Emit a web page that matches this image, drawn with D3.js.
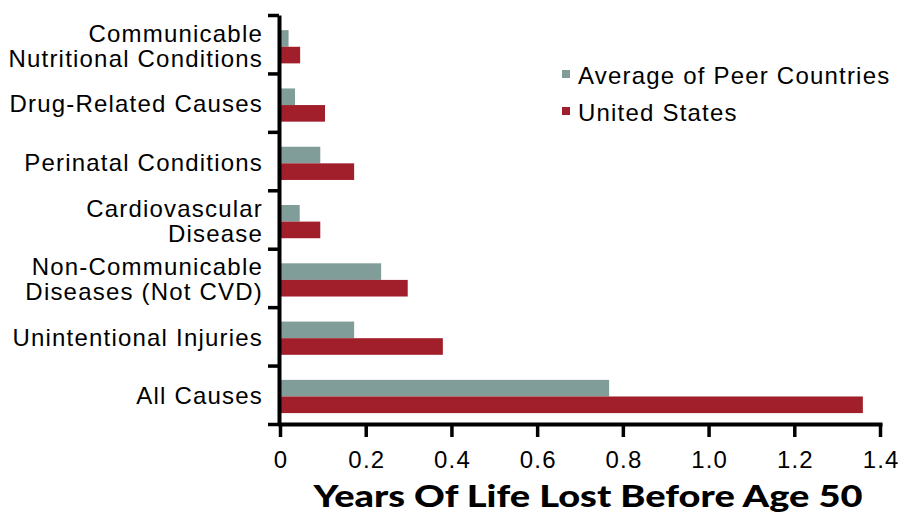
<!DOCTYPE html>
<html>
<head>
<meta charset="utf-8">
<script src="https://cdn.jsdelivr.net/npm/d3@7"></script>
<style>
  body { margin: 0; background: #fff; }
  text { font-family: "Liberation Sans", Arial, Helvetica, sans-serif; fill: #000; }
  .lbl { font-size: 24px; letter-spacing: 1.2px; }
  .title { font-family: Lato, "Liberation Sans", sans-serif; font-weight: 900; font-size: 30px; letter-spacing: 0; }
</style>
</head>
<body>
<div id="chart"></div>
<script>
// data
const categories = [
    'Communicable\nNutritional Conditions',
    'Drug-Related Causes',
    'Perinatal Conditions',
    'Cardiovascular\nDisease',
    'Non-Communicable\nDiseases (Not CVD)',
    'Unintentional Injuries',
    'All Causes'
];
const peerValues = [0.02, 0.035, 0.094, 0.046, 0.236, 0.173, 0.768];
const usValues = [0.047, 0.105, 0.173, 0.094, 0.298, 0.38, 1.36];
const seriesNames = ['Average of Peer Countries', 'United States'];
const xTicks = [0, 0.2, 0.4, 0.6, 0.8, 1.0, 1.2, 1.4];
const xTickLabels = ['0', '0.2', '0.4', '0.6', '0.8', '1.0', '1.2', '1.4'];
const axisTitle = 'Years Of Life Lost Before Age 50';

const colors = ['#819d99', '#a11f2b'];

const data = categories.map((c, i) => ({ cat: c, values: [peerValues[i], usValues[i]] }));

// chart
const width = 904;
const height = 517;
const margin = { top: 15, right: 24, bottom: 94, left: 280 };

const svg = d3.select('#chart')
    .append('svg')
    .attr('width', width)
    .attr('height', height);

const xScale = d3.scaleLinear()
    .domain([0, 1.4])
    .range([margin.left, width - margin.right]);

const yScale = d3.scaleBand()
    .domain(categories)
    .range([margin.top, height - margin.bottom])
    .padding(0);

const step = yScale.step();
const subScale = d3.scaleBand()
    .domain([0, 1])
    .range([step * 0.26, step * 0.83]);

// bars
const groups = svg.append('g')
    .attr('class', 'bars')
    .selectAll('g')
    .data(data)
    .join('g')
    .attr('transform', d => `translate(0,${yScale(d.cat)})`);

groups.selectAll('rect')
    .data(d => d.values)
    .join('rect')
    .attr('x', xScale(0))
    .attr('y', (d, i) => subScale(i))
    .attr('width', d => xScale(d) - xScale(0))
    .attr('height', subScale.bandwidth())
    .style('fill', (d, i) => colors[i]);

// category labels
const labels = svg.append('g')
    .attr('class', 'cat-labels')
    .selectAll('text')
    .data(categories)
    .join('text')
    .attr('class', 'lbl')
    .attr('text-anchor', 'end');

labels.each(function (d) {
    const lines = d.split('\n');
    const cy = yScale(d) + step / 2 + 10;
    d3.select(this)
        .selectAll('tspan')
        .data(lines)
        .join('tspan')
        .attr('x', xScale(0) - 17)
        .attr('y', (l, i) => cy + (i - (lines.length - 1) / 2) * 25)
        .text(l => l);
});

// x axis
const xAxis = d3.axisBottom(xScale)
    .tickValues(xTicks)
    .tickFormat((d, i) => xTickLabels[i])
    .tickSizeInner(13)
    .tickSizeOuter(0)
    .tickPadding(14);

const xAxisDraw = svg.append('g')
    .attr('class', 'x-axis')
    .attr('transform', `translate(0,${height - margin.bottom + 1})`)
    .call(xAxis);

xAxisDraw.select('.domain')
    .attr('stroke', '#000')
    .attr('stroke-width', 4)
    .attr('stroke-linecap', 'square');
xAxisDraw.selectAll('.tick line')
    .attr('stroke', '#000')
    .attr('stroke-width', 3.5);
xAxisDraw.selectAll('.tick text')
    .attr('class', 'lbl')
    .attr('fill', '#000')
    .attr('dy', '0.71em')
    .attr('dx', '0.6px')
    .style('font-family', '"Liberation Sans", Arial, sans-serif');

// y axis (ticks on category boundaries)
const yEdge = d3.scaleLinear()
    .domain([0, categories.length])
    .range([margin.top, height - margin.bottom + 1]);

const yAxis = d3.axisLeft(yEdge)
    .tickValues(d3.range(categories.length + 1))
    .tickFormat('')
    .tickSizeInner(11)
    .tickSizeOuter(0);

const yAxisDraw = svg.append('g')
    .attr('class', 'y-axis')
    .attr('transform', `translate(${xScale(0) - 1},0)`)
    .call(yAxis);

yAxisDraw.select('.domain')
    .attr('stroke', '#000')
    .attr('stroke-width', 4);
yAxisDraw.selectAll('.tick line')
    .attr('stroke', '#000')
    .attr('stroke-width', 3.5);

// axis title
svg.append('text')
    .attr('class', 'title')
    .attr('x', 588)
    .attr('y', 507)
    .attr('text-anchor', 'middle')
    .attr('textLength', 549)
    .attr('lengthAdjust', 'spacingAndGlyphs')
    .text(axisTitle);

// legend
const legend = svg.append('g')
    .attr('class', 'legend')
    .attr('transform', 'translate(562,84)');

const legendItem = legend.selectAll('g')
    .data(seriesNames)
    .join('g')
    .attr('transform', (d, i) => `translate(0,${i * 37})`);

legendItem.append('rect')
    .attr('x', 0)
    .attr('y', -14)
    .attr('width', 8)
    .attr('height', 8)
    .style('fill', (d, i) => colors[i]);

legendItem.append('text')
    .attr('class', 'lbl')
    .attr('x', 16)
    .attr('y', 0)
    .text(d => d);
</script>
</body>
</html>
